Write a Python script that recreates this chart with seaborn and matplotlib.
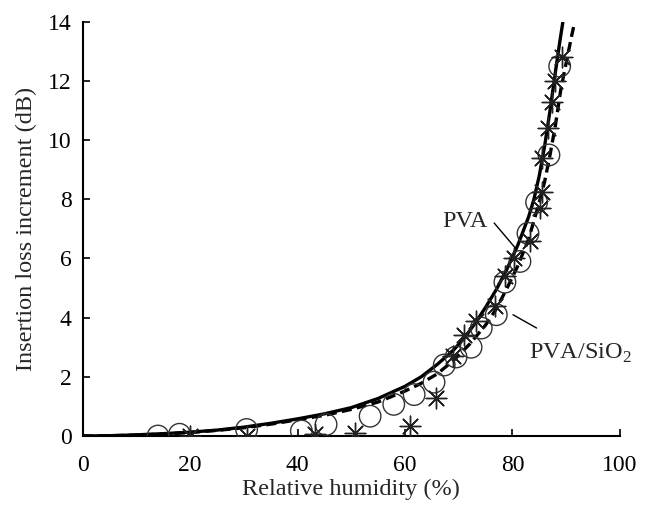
import numpy as np
import pandas as pd
import matplotlib
matplotlib.use("Agg")
import matplotlib.pyplot as plt
import seaborn as sns

# measured points, PVA (circles)
pva_rh = [14, 18, 30.5, 40.7, 45.3, 53.5, 57.9, 61.7, 65.4, 67.3, 69.5, 72.3, 74.2, 77, 78.6, 81.4, 82.9, 84.5, 86.8, 88.8]
pva_il = [0, 0.06, 0.22, 0.17, 0.39, 0.67, 1.07, 1.4, 1.82, 2.4, 2.67, 3.0, 3.65, 4.1, 5.2, 5.9, 6.85, 7.9, 9.5, 12.5]

# measured points, PVA/SiO2 (stars)
sio2_rh = [20, 30.5, 43.2, 50.6, 61, 65.8, 69, 71, 73.3, 76.7, 78.6, 80.3, 83.2, 85.1, 85.5, 85.5, 86.6, 87.3, 88, 89.2]
sio2_il = [0, 0, 0.06, 0.11, 0.34, 1.28, 2.7, 3.4, 3.9, 4.4, 5.4, 6.0, 6.6, 7.7, 8.25, 9.4, 10.4, 11.3, 12.0, 12.8]

# fitted curves
fit1_rh = [0, 5, 10, 15, 20, 25, 30, 35, 40, 45, 50, 55, 60, 63, 66, 69, 71, 73, 75, 77, 79, 81, 83, 84, 85, 86, 87, 88, 88.8, 89.4]
fit1_il = [0, 0.01, 0.04, 0.08, 0.13, 0.2, 0.3, 0.43, 0.58, 0.75, 0.96, 1.27, 1.68, 2.0, 2.42, 2.9, 3.3, 3.8, 4.35, 4.95, 5.65, 6.45, 7.4, 8.0, 8.8, 9.8, 11.0, 12.3, 13.3, 14.0]
fit2_rh = [0, 5, 10, 15, 20, 25, 30, 35, 40, 45, 50, 55, 60, 63, 66, 69, 72, 75, 77, 79, 81, 83, 85, 86, 87, 88, 89, 90, 91, 91.6]
fit2_il = [0, 0.01, 0.03, 0.07, 0.12, 0.19, 0.28, 0.4, 0.55, 0.7, 0.9, 1.15, 1.52, 1.78, 2.1, 2.55, 3.1, 3.75, 4.3, 5.0, 5.75, 6.65, 7.9, 8.6, 9.5, 10.5, 11.7, 12.6, 13.5, 14.0]

sns.set_theme(style="ticks")
plt.rcParams["font.family"] = ["Liberation Serif", "DejaVu Serif"]
plt.rcParams["mathtext.fontset"] = "custom"
plt.rcParams["mathtext.rm"] = "Liberation Serif"

fig = plt.figure(figsize=(6.47, 5.07), dpi=100)
ax = fig.add_axes([0.128, 0.140, 0.830, 0.817])

sns.lineplot(x=fit1_rh, y=fit1_il, ax=ax, color="black", linewidth=2.4, sort=False)
sns.lineplot(x=fit2_rh, y=fit2_il, ax=ax, color="black", linewidth=2.4, linestyle=(0, (3, 1.6)), sort=False)
ax.scatter(pva_rh, pva_il, s=240, facecolors="none", edgecolors="#333333", linewidths=1.0, zorder=3)
ax.scatter(sio2_rh, sio2_il, s=220, marker=(8, 2, 0), color="#222222", linewidths=1.0, zorder=3)

# labels with leader lines
ax.text(75.4, 7.25, "PVA", fontsize=17.5, ha="right", va="center")
ax.annotate("", xy=(80.8, 6.3), xytext=(76.6, 7.2),
            arrowprops=dict(arrowstyle="-", color="black", lw=1.0, shrinkA=0, shrinkB=0))
ax.text(83, 2.8, "PVA/SiO$_2$", fontsize=17.5, ha="left", va="center")
ax.annotate("", xy=(80.1, 4.1), xytext=(84.5, 3.65),
            arrowprops=dict(arrowstyle="-", color="black", lw=1.0, shrinkA=0, shrinkB=0))

ax.set_xlim(0, 100)
ax.set_ylim(0, 14)
ax.set_xticks([0, 20, 40, 60, 80, 100])
ax.set_yticks([0, 2, 4, 6, 8, 10, 12, 14])
ax.tick_params(direction="in", length=5, width=1.2, labelsize=17, colors="black")
ax.tick_params(axis="x", pad=14)
ax.tick_params(axis="y", pad=8)
for s in ["left", "bottom"]:
    ax.spines[s].set_linewidth(1.5)
    ax.spines[s].set_color("black")
sns.despine(ax=ax)
ax.set_xlabel("Relative humidity (%)", fontsize=17.5, labelpad=2)
ax.set_ylabel("Insertion loss increment (dB)", fontsize=17.5, labelpad=8)

fig.savefig("out.png", dpi=100)
